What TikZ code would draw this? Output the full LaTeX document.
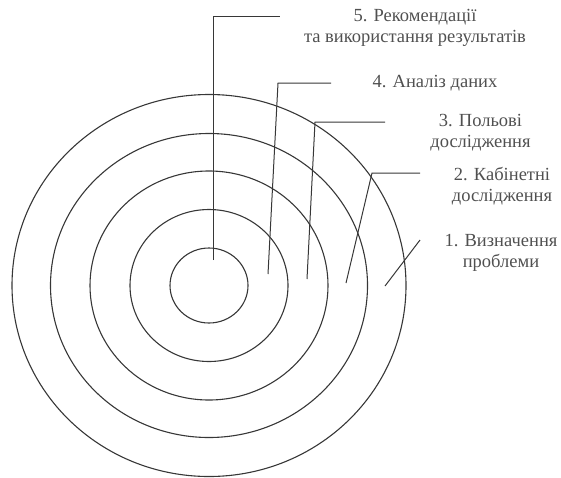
\documentclass[tikz,border=0pt]{standalone}
\usepackage{fontspec}
\setmainfont{Liberation Serif}
\usetikzlibrary{positioning}
\definecolor{inkgrey}{RGB}{55,55,55}
\definecolor{labelgrey}{RGB}{80,80,80}

\begin{document}
\begin{tikzpicture}[x=1pt, y=-1pt,
    ring/.style={draw=inkgrey, line width=1.1pt},
    lead/.style={draw=inkgrey, line width=1pt},
    stage/.style={text=labelgrey, font=\fontsize{18.5}{21}\selectfont,
                  align=center, inner sep=0pt},
  ]
    \useasboundingbox (0,0) rectangle (561,477);
    \coordinate (C) at (209,285.5);
    % concentric research stages
    \foreach \rx/\ry in {39pt/37.5pt, 79pt/76pt, 119pt/114.5pt, 158.5pt/152pt, 197pt/191pt}
      \draw[ring] (C) ellipse [x radius=\rx, y radius=\ry];
    % stage labels
    \node[stage] (S5) at (415,27.5)  {5. Рекомендації\\та використання результатів};
    \node[stage] (S4) at (435,83)    {4. Аналіз даних};
    \node[stage] (S3) at (480.5,132.5) {3. Польові\\дослідження};
    \node[stage] (S2) at (502,186)   {2. Кабінетні\\дослідження};
    \node[stage] (S1) at (501,253)   {1. Визначення\\проблеми};
    % leader lines: end in ring, corner, free end
    \coordinate (e5) at (213,260); \coordinate (k5) at (213,16);  \coordinate (t5) at (280,16);
    \coordinate (e4) at (268,274); \coordinate (k4) at (278,83);  \coordinate (t4) at (331,83);
    \coordinate (e3) at (307,279); \coordinate (k3) at (315,122); \coordinate (t3) at (385,122);
    \coordinate (e2) at (346,283); \coordinate (k2) at (372,173); \coordinate (t2) at (420,173);
    \coordinate (e1) at (385,286); \coordinate (t1) at (420,240);
    \foreach \i in {2,...,5} \draw[lead] (e\i) -- (k\i) -- (t\i);
    \draw[lead] (e1) -- (t1);
\end{tikzpicture}
\end{document}
